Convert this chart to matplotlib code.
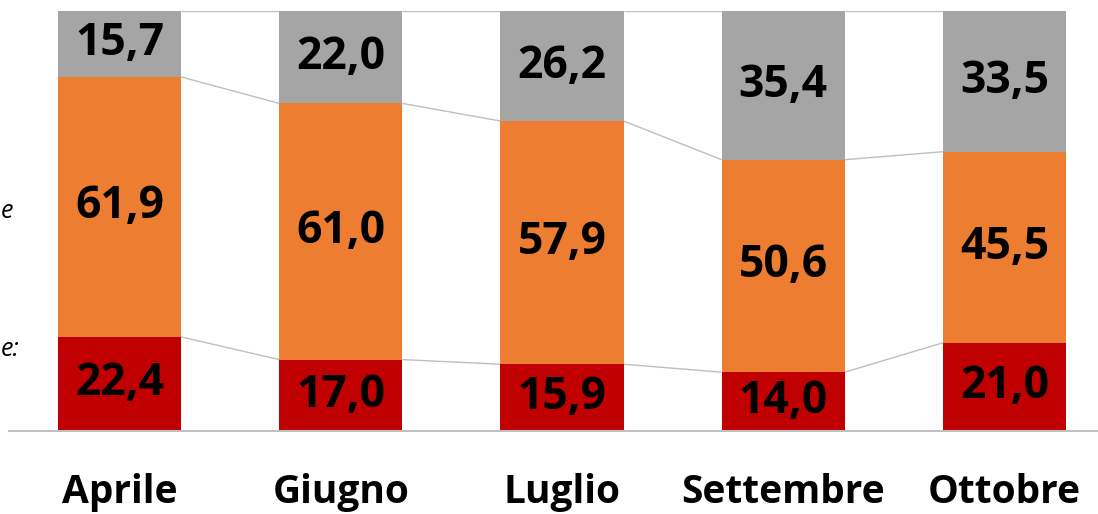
import matplotlib
matplotlib.use("Agg")
import matplotlib.pyplot as plt
import numpy as np

months = ["Aprile", "Giugno", "Luglio", "Settembre", "Ottobre"]
red_vals = [22.4, 17.0, 15.9, 14.0, 21.0]
orange_vals = [61.9, 61.0, 57.9, 50.6, 45.5]
gray_vals = [15.7, 22.0, 26.2, 35.4, 33.5]

C_RED = "#C00000"
C_ORANGE = "#ED7D31"
C_GRAY = "#A5A5A5"
LINE_C = "#BFBFBF"

FONT = "Open Sans"

W, H = 1098, 514
fig = plt.figure(figsize=(W / 100, H / 100), dpi=100)
ax_left, ax_right = 9, 1115
ax_bottom, ax_top = 431, 11
ax = fig.add_axes([ax_left / W, 1 - ax_bottom / H, (ax_right - ax_left) / W, (ax_bottom - ax_top) / H])

x = np.arange(len(months))
bw = 0.557
red = np.array(red_vals)
ora = np.array(orange_vals)
gry = np.array(gray_vals)

ax.bar(x, red, bw, color=C_RED, zorder=2)
ax.bar(x, ora, bw, bottom=red, color=C_ORANGE, zorder=2)
ax.bar(x, gry, bw, bottom=red + ora, color=C_GRAY, zorder=2)

# series lines
for level in (red, red + ora, red + ora + gry):
    for i in range(len(months) - 1):
        ax.plot([x[i] + bw / 2, x[i + 1] - bw / 2], [level[i], level[i + 1]],
                color=LINE_C, lw=1.0, zorder=1, solid_capstyle="butt")

def fmt(v):
    return f"{v:.1f}".replace(".", ",")

for i in range(len(months)):
    bottoms = [0, red[i], red[i] + ora[i]]
    for b, v in zip(bottoms, [red[i], ora[i], gry[i]]):
        ax.text(x[i], b + v / 2, fmt(v), ha="center", va="center",
                fontsize=32, fontweight="bold", family=FONT, color="black", zorder=3)

ax.set_xlim(-0.5, 4.5)
ax.set_ylim(0, 100)
ax.set_xticks(x)
ax.set_xticklabels(months, fontsize=28, fontweight="bold", family=FONT)
ax.tick_params(axis="x", length=0, pad=30)
ax.set_yticks([])
for s in ("left", "right", "top"):
    ax.spines[s].set_visible(False)
ax.spines["bottom"].set_color(LINE_C)
ax.spines["bottom"].set_linewidth(1.5)

# fragments of text on the left edge
fig.text(1 / W, 1 - 212 / H, "e", ha="left", va="center", fontsize=18,
         style="italic", family=FONT)
fig.text(1 / W, 1 - 350 / H, "e:", ha="left", va="center", fontsize=18,
         style="italic", family=FONT)

fig.savefig("out.png", dpi=100)
